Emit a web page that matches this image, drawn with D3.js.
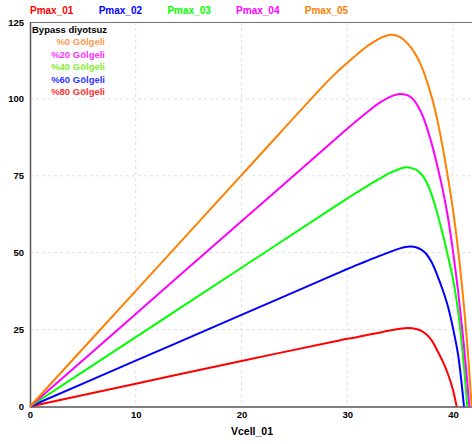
<!DOCTYPE html>
<html>
<head>
<meta charset="utf-8">
<script src="https://cdn.jsdelivr.net/npm/d3@7"></script>
<style>
  body { margin: 0; background: #fff; }
  svg { display: block; font-family: "Liberation Sans", Arial, sans-serif; }
</style>
</head>
<body>
<div id="chart"></div>
<script>
// series names and colours
var seriesNames = ["Pmax_01", "Pmax_02", "Pmax_03", "Pmax_04", "Pmax_05"];
var seriesColors = ["#ff0000", "#0000ff", "#00ff00", "#ff00ff", "#ff8000"];

// annotation text
var noteTitle = "Bypass diyotsuz";
var noteLines = ["%0 Gölgeli", "%20 Gölgeli", "%40 Gölgeli", "%60 Gölgeli", "%80 Gölgeli"];
var noteColors = ["#ff9a50", "#ff33ff", "#88ee33", "#3333ff", "#ff3333"];

// tick values
var xTicks = [0, 10, 20, 30, 40];
var yTicks = [0, 25, 50, 75, 100, 125];

// cell voltage (V) and power (W) per series
var v01 = [0, 10, 20, 29, 30, 31, 32, 33, 34, 35, 35.8, 36.5, 37, 37.5, 38, 38.5, 39, 39.5, 40, 40.35];
var p01 = [0, 7.4, 14.8, 21.3, 22.0, 22.6, 23.3, 24.0, 24.7, 25.3, 25.5, 25.2, 24.6, 23.4, 21.4, 18.3, 14.9, 10.8, 5.4, 0];

var v02 = [0, 10, 20, 29, 30, 31, 32, 33, 34, 35, 35.9, 36.5, 37, 37.5, 38, 38.5, 39, 39.5, 40, 40.5, 41.04];
var p02 = [0, 14.9, 29.8, 43.2, 44.7, 46.1, 47.5, 48.9, 50.2, 51.4, 52.0, 51.8, 51.0, 49.5, 46.8, 42.8, 38.2, 32.8, 25.5, 16.5, 0];

var v03 = [0, 10, 20, 29, 30, 31, 32, 33, 34, 35, 35.6, 36.5, 37, 37.5, 38, 38.5, 39, 39.5, 40, 40.5, 41, 41.35];
var p03 = [0, 22.55, 45.1, 65.4, 67.6, 69.8, 71.9, 73.9, 75.9, 77.3, 77.8, 77.0, 75.6, 73.0, 68.7, 63.0, 56.5, 49.3, 41.5, 30.5, 14.5, 0];

var v04 = [0, 10, 20, 29, 30, 31, 32, 33, 34, 35, 36, 37, 38, 38.5, 39, 39.5, 40, 40.5, 41, 41.55];
var p04 = [0, 30.1, 60.2, 87.3, 90.3, 93.2, 96.0, 98.6, 100.6, 101.6, 100.6, 95.6, 85.3, 78.5, 71.0, 62.0, 50.5, 37.0, 21.0, 0];

var v05 = [0, 10, 20, 28, 29, 30, 31, 32, 33, 34, 35, 36, 37, 38, 38.5, 39, 39.5, 40, 40.5, 41, 41.4, 41.77];
var p05 = [0, 37.6, 75.2, 105.2, 108.6, 111.7, 114.7, 117.4, 119.5, 120.8, 120.1, 116.8, 110.8, 100.5, 93.5, 84.8, 75.0, 64.0, 50.5, 34.0, 18.0, 0];

var seriesV = [v01, v02, v03, v04, v05];
var seriesP = [p01, p02, p03, p04, p05];

// svg container
var svgWidth = 472;
var svgHeight = 444;

var margin = { top: 22, right: 0, bottom: 37.5, left: 30 };
var width = svgWidth - margin.left - margin.right;
var height = svgHeight - margin.top - margin.bottom;

var svg = d3.select("#chart").append("svg")
  .attr("width", svgWidth)
  .attr("height", svgHeight);

var chartGroup = svg.append("g")
  .attr("transform", `translate(${margin.left}, ${margin.top})`);

// scales
var xScale = d3.scaleLinear().domain([0, 41.8]).range([0, width]);
var yScale = d3.scaleLinear().domain([0, 125]).range([height, 0]);

// grid
chartGroup.append("g")
  .selectAll("line")
  .data(xTicks.filter(d => d > 0))
  .enter().append("line")
  .attr("x1", d => xScale(d)).attr("x2", d => xScale(d))
  .attr("y1", 0).attr("y2", height)
  .attr("stroke", "#e0e0e0")
  .attr("stroke-dasharray", "3,3");

chartGroup.append("g")
  .selectAll("line")
  .data(yTicks.filter(d => d > 0 && d < 125))
  .enter().append("line")
  .attr("x1", 0).attr("x2", width)
  .attr("y1", d => yScale(d)).attr("y2", d => yScale(d))
  .attr("stroke", "#e0e0e0")
  .attr("stroke-dasharray", "3,3");

// frame (top line)
chartGroup.append("line")
  .attr("x1", 0).attr("x2", width)
  .attr("y1", 0.5).attr("y2", 0.5)
  .attr("stroke", "#707070");

// axes
var xAxis = d3.axisBottom(xScale).tickValues(xTicks).tickSize(0).tickPadding(5);
var yAxis = d3.axisLeft(yScale).tickValues(yTicks).tickSize(0).tickPadding(6);

var gx = chartGroup.append("g")
  .attr("transform", `translate(0, ${height})`)
  .call(xAxis);
var gy = chartGroup.append("g").call(yAxis);

[gx, gy].forEach(function(g) {
  g.select(".domain").attr("stroke", "#555").attr("stroke-width", 1.5);
  g.selectAll("text")
    .attr("font-family", "Liberation Sans, Arial, sans-serif")
    .attr("font-size", "9.5px")
    .attr("font-weight", "bold")
    .attr("fill", "#000");
});

// lines
var line = d3.line()
  .x(d => xScale(d[0]))
  .y(d => yScale(d[1]))
  .curve(d3.curveCatmullRom.alpha(0.5));

seriesNames.forEach(function(name, i) {
  var pts = seriesV[i].map((v, j) => [v, seriesP[i][j]]);
  chartGroup.append("path")
    .datum(pts)
    .attr("d", line)
    .attr("fill", "none")
    .attr("stroke", seriesColors[i])
    .attr("stroke-width", 2);
});

// top legend
svg.append("g")
  .selectAll("text")
  .data(seriesNames)
  .enter().append("text")
  .attr("x", (d, i) => 30 + i * 68.7)
  .attr("y", 14)
  .attr("font-size", "10px")
  .attr("font-weight", "bold")
  .attr("fill", (d, i) => seriesColors[i])
  .text(d => d);

// annotation inside plot
svg.append("text")
  .attr("x", 32)
  .attr("y", 32.5)
  .attr("font-size", "9.5px")
  .attr("font-weight", "bold")
  .attr("fill", "#000")
  .text(noteTitle);

svg.append("g")
  .selectAll("text")
  .data(noteLines)
  .enter().append("text")
  .attr("x", 105)
  .attr("y", (d, i) => 45 + i * 12.5)
  .attr("text-anchor", "end")
  .attr("font-size", "9.5px")
  .attr("font-weight", "bold")
  .attr("fill", (d, i) => noteColors[i])
  .text(d => d);

// x axis title
svg.append("text")
  .attr("x", 252)
  .attr("y", 435)
  .attr("text-anchor", "middle")
  .attr("font-size", "10.5px")
  .attr("font-weight", "bold")
  .text("Vcell_01");
</script>
</body>
</html>
